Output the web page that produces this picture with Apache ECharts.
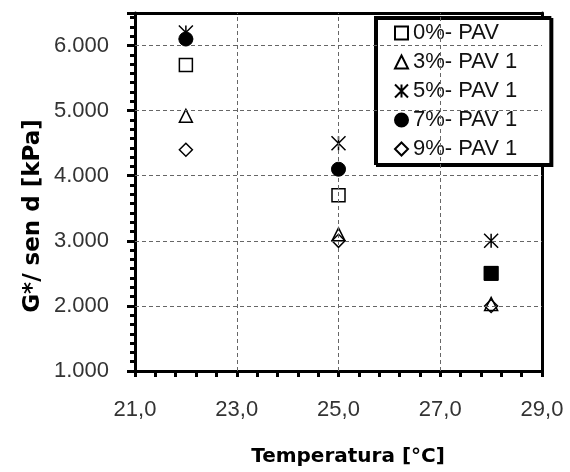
<!DOCTYPE html>
<html>
<head>
<meta charset="utf-8">
<script src="https://cdn.jsdelivr.net/npm/echarts@6/dist/echarts.min.js"></script>
<style>
  html, body { margin: 0; padding: 0; background: #fff; }
  #chart { width: 570px; height: 472px; }
</style>
</head>
<body>
<div id="chart"></div>
<script>
// Test temperatures [°C]
const temperatures = [22, 25, 28];

// G*/sen d for each blend
const pav0 = [5700, 3700, 2500];
const pav3 = [4920, 3100, 2030];
const pav5 = [6200, 4500, 3000];
const pav7 = [6100, 4100, 2500];
const pav9 = [4400, 3000, 2000];

const seriesNames = ['0%- PAV', '3%- PAV 1', '5%- PAV 1', '7%- PAV 1', '9%- PAV 1'];

// Axis ranges
const xMin = 21, xMax = 29, xStep = 2;
const yMin = 1000, yMax = 6500, yStep = 1000;

// Interior gridline positions
const xGridValues = [23, 25, 27];
const yGridValues = [2000, 3000, 4000, 5000, 6000];

const ASTERISK = 'path://M0,0L10,10M10,0L0,10M5,0L5,10';
const LABEL_FONT = 'Arial, "Liberation Sans", sans-serif';

function pairs(values) {
  return temperatures.map((t, i) => [t, values[i]]);
}

function fmtThousands(v) {
  return String(Math.round(v)).replace(/\B(?=(\d{3})+(?!\d))/g, '.');
}

const hollow = { color: 'rgba(0,0,0,0)', borderColor: '#000', borderWidth: 1.5, opacity: 1 };

// Plain frame axes for the top and right edges of the plot box
function frameAxis(position, min, max) {
  return {
    type: 'value', position, min, max,
    axisLine: { show: true, onZero: false, lineStyle: { color: '#000', width: 3 } },
    axisTick: { show: false }, axisLabel: { show: false }, splitLine: { show: false }
  };
}

const chart = echarts.init(document.getElementById('chart'), null, { renderer: 'canvas' });

chart.setOption({
  animation: false,
  backgroundColor: '#fff',
  grid: { left: 135, right: 28, top: 13, bottom: 101 },
  xAxis: [
    {
      type: 'value', position: 'bottom', min: xMin, max: xMax, interval: xStep,
      axisLine: { show: true, onZero: false, lineStyle: { color: '#000', width: 3 } },
      axisTick: { show: true, length: 6, lineStyle: { color: '#000', width: 3 } },
      minorTick: { show: true, splitNumber: 5, length: 6, lineStyle: { color: '#000', width: 3 } },
      splitLine: { show: false },
      axisLabel: {
        margin: 28, color: '#333', fontFamily: LABEL_FONT, fontSize: 22,
        formatter: v => v.toFixed(1).replace('.', ',')
      }
    },
    frameAxis('top', xMin, xMax)
  ],
  yAxis: [
    {
      type: 'value', position: 'left', min: yMin, max: yMax, interval: yStep,
      axisLine: { show: true, onZero: false, lineStyle: { color: '#000', width: 3 } },
      axisTick: { show: true, length: 8, lineStyle: { color: '#000', width: 3 } },
      minorTick: { show: true, splitNumber: 7, length: 5, lineStyle: { color: '#000', width: 3 } },
      splitLine: { show: false },
      axisLabel: {
        margin: 26, color: '#333', fontFamily: LABEL_FONT, fontSize: 22,
        formatter: v => (v % 1000 === 0 ? fmtThousands(v) : '')
      }
    },
    frameAxis('right', yMin, yMax)
  ],
  legend: {
    orient: 'vertical', left: 375, top: 17,
    padding: [5, 33, 4, 19],
    itemWidth: 13, itemHeight: 13, itemGap: 7,
    backgroundColor: '#fff', borderColor: '#000', borderWidth: 2,
    shadowColor: '#000', shadowOffsetX: 2, shadowOffsetY: 2, shadowBlur: 0,
    textStyle: { color: '#111', fontFamily: LABEL_FONT, fontSize: 22, lineHeight: 22 },
    data: seriesNames
  },
  graphic: [
    {
      type: 'text', x: 348, y: 457,
      style: {
        text: 'Temperatura [°C]', x: 0, y: 0, align: 'center', verticalAlign: 'middle',
        font: 'bold 20px "DejaVu Sans", sans-serif', fill: '#000'
      }
    },
    {
      type: 'text', x: 33, y: 216, rotation: Math.PI / 2,
      style: {
        text: 'G*/ sen d [kPa]', x: 0, y: 0, align: 'center', verticalAlign: 'middle',
        font: 'bold 23px "DejaVu Sans", sans-serif', fill: '#000'
      }
    }
  ],
  series: [
    // Dashed gridlines, placed through the axis scales
    {
      name: 'grid', type: 'scatter', data: [], z: 1, silent: true,
      markLine: {
        silent: true, symbol: ['none', 'none'], label: { show: false },
        lineStyle: { color: '#666', width: 1, type: [4, 3], opacity: 1 },
        emphasis: { disabled: true },
        data: xGridValues.map(v => ({ xAxis: v })).concat(yGridValues.map(v => ({ yAxis: v })))
      }
    },
    { name: seriesNames[0], type: 'scatter', symbol: 'rect', symbolSize: 13, itemStyle: hollow, data: pairs(pav0), z: 4 },
    { name: seriesNames[1], type: 'scatter', symbol: 'triangle', symbolSize: 13, itemStyle: hollow, data: pairs(pav3), z: 4 },
    { name: seriesNames[2], type: 'scatter', symbol: ASTERISK, symbolSize: 14, itemStyle: hollow, data: pairs(pav5), z: 4 },
    {
      name: seriesNames[3], type: 'scatter', symbol: 'circle', symbolSize: 14,
      itemStyle: { color: '#000', borderColor: '#000', borderWidth: 1, opacity: 1 },
      data: pairs(pav7).map((p, i) => (temperatures[i] === 28 ? { value: p, symbol: 'rect' } : p)),
      z: 5
    },
    { name: seriesNames[4], type: 'scatter', symbol: 'diamond', symbolSize: 13, itemStyle: hollow, data: pairs(pav9), z: 4 }
  ]
});
</script>
</body>
</html>
